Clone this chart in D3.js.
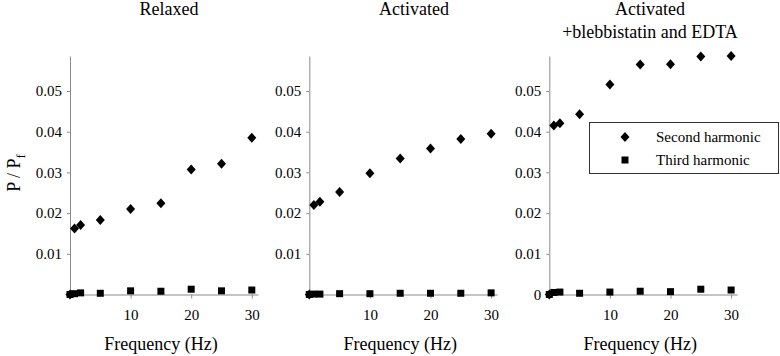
<!DOCTYPE html>
<html>
<head>
    <meta charset="utf-8">
    <title>Harmonics</title>
    <script src="https://d3js.org/d3.v7.min.js"></script>
</head>
<body style="margin:0; background:white;">
<div id="chart"></div>
<script>
    // Frequencies (Hz) shared by every panel
    const frequencies = [0, 0.75, 1.75, 5, 10, 15, 20, 25, 30];

    // P / Pf values
    const relaxedSecond   = [0, 0.0162, 0.0171, 0.0183, 0.0210, 0.0224, 0.0307, 0.0321, 0.0385];
    const relaxedThird    = [0, 0.0002, 0.0004, 0.0003, 0.0009, 0.0008, 0.0013, 0.0009, 0.0011];
    const activatedSecond = [0, 0.0220, 0.0228, 0.0252, 0.0298, 0.0334, 0.0359, 0.0382, 0.0395];
    const activatedThird  = [0, 0.0001, 0.0001, 0.0002, 0.0002, 0.0003, 0.0003, 0.0003, 0.0004];
    const blebbSecond     = [0, 0.0415, 0.0421, 0.0443, 0.0516, 0.0565, 0.0566, 0.0585, 0.0586];
    const blebbThird      = [0, 0.0005, 0.0006, 0.0003, 0.0006, 0.0008, 0.0007, 0.0013, 0.0011];

    const panelTitles = [["Relaxed"], ["Activated"], ["Activated", "+blebbistatin and EDTA"]];
    const yTicks = [0.01, 0.02, 0.03, 0.04, 0.05];
    const xTicks = [10, 20, 30];
    const seriesNames = ["Second harmonic", "Third harmonic"];

    const panelData = [
        [relaxedSecond, relaxedThird],
        [activatedSecond, activatedThird],
        [blebbSecond, blebbThird]
    ];

    // layout
    const W = 780, H = 356;
    const FONT = "Liberation Serif";
    const axisLeft = [70, 309.3, 549.3];
    const titleX = [169, 414, 650];
    const pxPerHz = 6.06;
    const xMax = 31;
    const y0 = 294.5, yTop = 56;
    const axisColor = "#8a8a8a";

    const svg = d3.select("#chart").append("svg")
        .attr("width", W)
        .attr("height", H)
        .attr("font-family", FONT);

    const yScale = d3.scaleLinear().domain([0, 0.0586]).range([y0, yTop]);

    const diamond = (cx, cy) => `M${cx},${cy - 5}L${cx + 4.5},${cy}L${cx},${cy + 5}L${cx - 4.5},${cy}Z`;

    panelData.forEach((series, p) => {
        const xScale = d3.scaleLinear()
            .domain([0, xMax])
            .range([axisLeft[p], axisLeft[p] + xMax * pxPerHz]);

        const g = svg.append("g");

        // x axis
        const xAxis = g.append("g")
            .attr("transform", `translate(0,${y0})`)
            .call(d3.axisBottom(xScale).tickValues(xTicks).tickSize(4).tickPadding(11).tickSizeOuter(0));
        xAxis.attr("font-family", FONT).attr("font-size", 15);
        xAxis.select(".domain").attr("stroke", axisColor);
        xAxis.selectAll(".tick line").attr("stroke", axisColor);
        xAxis.selectAll(".tick text").attr("fill", "black");

        // y axis
        const ticks = p === 2 ? [0].concat(yTicks) : yTicks;
        const yAxis = g.append("g")
            .attr("transform", `translate(${axisLeft[p]},0)`)
            .call(d3.axisLeft(yScale).tickValues(ticks).tickSize(3).tickPadding(5)
                .tickSizeOuter(0).tickFormat(d => d === 0 ? "0" : d3.format(".2f")(d)));
        yAxis.attr("font-family", FONT).attr("font-size", 15);
        yAxis.select(".domain").attr("stroke", axisColor);
        yAxis.selectAll(".tick line").attr("stroke", axisColor);
        yAxis.selectAll(".tick text").attr("fill", "black");

        // titles
        panelTitles[p].forEach((t, i) => {
            g.append("text")
                .attr("x", titleX[p])
                .attr("y", 15 + i * 23)
                .attr("text-anchor", "middle")
                .attr("font-family", FONT)
                .attr("font-size", 18)
                .text(t);
        });

        // x label
        g.append("text")
            .attr("x", axisLeft[p] + 91)
            .attr("y", 350)
            .attr("text-anchor", "middle")
            .attr("font-family", FONT)
            .attr("font-size", 18)
            .text("Frequency (Hz)");

        // third harmonic squares
        g.selectAll(".sq")
            .data(frequencies.map((f, i) => [f, series[1][i]]))
            .enter().append("rect")
            .attr("x", d => xScale(d[0]) - 3.5)
            .attr("y", d => yScale(d[1]) - 3.5)
            .attr("width", 7)
            .attr("height", 7)
            .attr("fill", "black");

        // second harmonic diamonds
        g.selectAll(".dm")
            .data(frequencies.map((f, i) => [f, series[0][i]]))
            .enter().append("path")
            .attr("d", d => diamond(xScale(d[0]), yScale(d[1])))
            .attr("fill", "black");
    });

    // y axis label
    const yl = svg.append("text")
        .attr("transform", "translate(20,173) rotate(-90)")
        .attr("text-anchor", "middle")
        .attr("font-family", FONT)
        .attr("font-size", 18);
    yl.append("tspan").text("P / P");
    yl.append("tspan").attr("dy", 5).attr("font-size", 13).text("f");

    // legend
    const legend = svg.append("g");
    legend.append("rect")
        .attr("x", 589.5).attr("y", 122.5)
        .attr("width", 189).attr("height", 51)
        .attr("fill", "white")
        .attr("stroke", "#333")
        .attr("stroke-width", 1);
    seriesNames.forEach((name, i) => {
        const cy = 137 + i * 23;
        if (i === 0) {
            legend.append("path").attr("d", diamond(625, cy)).attr("fill", "black");
        } else {
            legend.append("rect").attr("x", 621.5).attr("y", cy - 3.5)
                .attr("width", 7).attr("height", 7).attr("fill", "black");
        }
        legend.append("text")
            .attr("x", 656)
            .attr("y", cy + 5)
            .attr("font-family", FONT)
            .attr("font-size", 15)
            .text(name);
    });
</script>
</body>
</html>
